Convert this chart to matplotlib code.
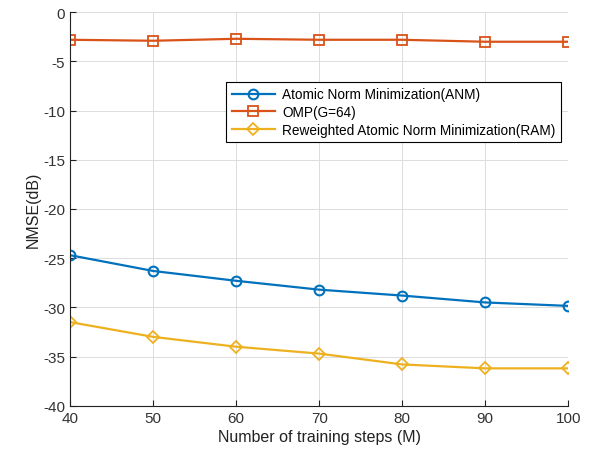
import matplotlib.pyplot as plt

plt.rcParams['font.family'] = ['Liberation Sans', 'DejaVu Sans']
plt.rcParams['axes.unicode_minus'] = False

#data
steps = [40, 50, 60, 70, 80, 90, 100]
anm = [-24.7, -26.3, -27.3, -28.2, -28.8, -29.5, -29.85]
omp = [-2.8, -2.9, -2.7, -2.8, -2.8, -3.0, -3.0]
ram = [-31.5, -33.0, -34.0, -34.7, -35.8, -36.2, -36.2]

#matlab colors
c_anm = '#0072BD'
c_omp = '#D95319'
c_ram = '#EDB120'

fig = plt.figure(figsize=(5.95, 4.56), dpi=100)
ax = fig.add_axes([0.118, 0.108, 0.837, 0.863])

ms = 7
lw = 1.6
ax.plot(steps, anm, '-o', color=c_anm, lw=lw, ms=ms, mfc='none', mew=1.5,
        label='Atomic Norm Minimization(ANM)')
ax.plot(steps, omp, '-s', color=c_omp, lw=lw, ms=ms, mfc='none', mew=1.3,
        label='OMP(G=64)')
ax.plot(steps, ram, '-D', color=c_ram, lw=lw, ms=6, mfc='none', mew=1.3,
        label='Reweighted Atomic Norm Minimization(RAM)')

ax.set_xlim(40, 100)
ax.set_ylim(-40, 0)
ax.set_xticks(steps)
ax.set_yticks(range(-40, 1, 5))
ax.grid(True, color='#dcdcdc', lw=0.7)
ax.set_axisbelow(True)

for s in ['top', 'right']:
    ax.spines[s].set_visible(False)
for s in ['left', 'bottom']:
    ax.spines[s].set_color('#222222')
ax.tick_params(direction='in', labelsize=11, colors='#222222', length=4)
for lab in ax.get_xticklabels() + ax.get_yticklabels():
    lab.set_color('#333333')

ax.set_xlabel('Number of training steps (M)', fontsize=11.5, color='#222222', labelpad=3)
ax.set_ylabel('NMSE(dB)', fontsize=11.5, color='#222222', labelpad=2)

leg = ax.legend(loc='upper left', bbox_to_anchor=(0.313, 0.823), fontsize=9.8,
                fancybox=False, edgecolor='black', framealpha=1,
                handlelength=3.2, borderpad=0.4, labelspacing=0.28,
                handletextpad=0.5, borderaxespad=0)
leg.get_frame().set_linewidth(0.8)

fig.savefig('out.png', dpi=100)
